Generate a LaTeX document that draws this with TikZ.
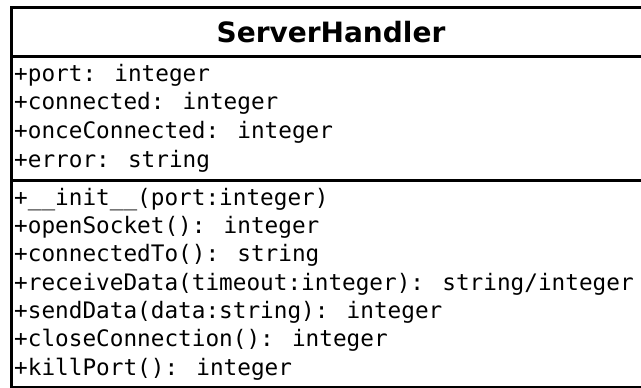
\documentclass[tikz,border=0pt]{standalone}
\usepackage{fontspec}
\newfontfamily\titlefont{DejaVu Sans}
\newfontfamily\monofont{DejaVu Sans Mono}
\begin{document}
\begin{tikzpicture}[x=1pt,y=-1pt,
  rowtext/.style={anchor=base west,inner sep=0pt,font=\monofont\fontsize{22.7}{26}\selectfont},
  titletext/.style={anchor=base,inner sep=0pt,font=\titlefont\bfseries\fontsize{28}{32}\selectfont},
  border/.style={line width=3pt,draw=black}]
\useasboundingbox (0,0) rectangle (641,388);
\fill[white] (0,0) rectangle (641,388);
\coordinate (tl) at (11.3,7.5);
\coordinate (br) at (651,387.5);
\draw[border] (tl) rectangle (br);
\coordinate (s1l) at (11.3,56);
\coordinate (s1r) at (651,56);
\coordinate (s2l) at (11.3,180);
\coordinate (s2r) at (651,180);
\draw[border] (s1l) -- (s1r);
\draw[border] (s2l) -- (s2r);
\node[titletext] (title) at (331,42) {ServerHandler};
\node[rowtext] (a1) at (14,81) {+port: integer};
\node[rowtext] (a2) at (14,109.7) {+connected: integer};
\node[rowtext] (a3) at (14,138.4) {+onceConnected: integer};
\node[rowtext] (a4) at (14,167) {+error: string};
\node[rowtext] (m1) at (14,205) {+\_\_init\_\_(port:integer)};
\node[rowtext] (m2) at (14,233.3) {+openSocket(): integer};
\node[rowtext] (m3) at (14,261.7) {+connectedTo(): string};
\node[rowtext] (m4) at (14,290) {+receiveData(timeout:integer): string/integer};
\node[rowtext] (m5) at (14,318.3) {+sendData(data:string): integer};
\node[rowtext] (m6) at (14,346.7) {+closeConnection(): integer};
\node[rowtext] (m7) at (14,375) {+killPort(): integer};
\end{tikzpicture}
\end{document}
